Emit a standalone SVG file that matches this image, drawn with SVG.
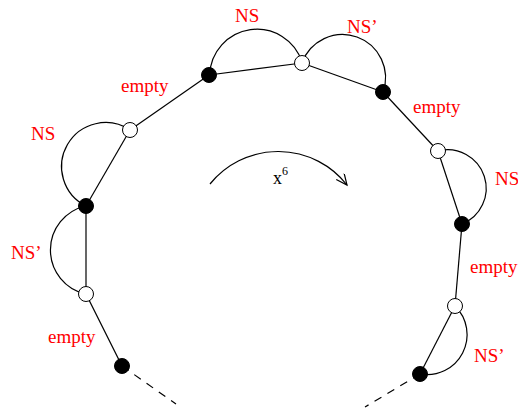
<svg xmlns="http://www.w3.org/2000/svg" width="518" height="411" viewBox="0 0 518 411">
<style>
.e{stroke:#000;stroke-width:1.2;fill:none}
.d{stroke:#000;stroke-width:1.2;fill:none;stroke-dasharray:8,7}
.b{fill:#000;stroke:#000;stroke-width:1}
.w{fill:#fff;stroke:#000;stroke-width:1}
.l{font-family:"Liberation Serif",serif;font-size:19px;fill:#ff0000}
.t{font-family:"Liberation Serif",serif;font-size:18px;fill:#000}
</style>
<defs>
<marker id="ah" markerWidth="14" markerHeight="12" refX="12" refY="5" orient="auto" markerUnits="userSpaceOnUse">
<path d="M1,0 L12,5 L1,10" fill="none" stroke="#000" stroke-width="1.2"/>
</marker>
</defs>
<g id="connectors">
<line class="e" x1="122" y1="366" x2="86" y2="294"/>
<line class="e" x1="86" y1="294" x2="86" y2="206"/>
<line class="e" x1="86" y1="206" x2="130" y2="130"/>
<line class="e" x1="130" y1="130" x2="209" y2="75"/>
<line class="e" x1="209" y1="75" x2="302" y2="63"/>
<line class="e" x1="302" y1="63" x2="383" y2="92"/>
<line class="e" x1="383" y1="92" x2="438" y2="151"/>
<line class="e" x1="438" y1="151" x2="462" y2="224"/>
<line class="e" x1="462" y1="224" x2="455" y2="306"/>
<line class="e" x1="455" y1="306" x2="420" y2="374"/>
<line class="d" x1="122" y1="366" x2="176" y2="404"/>
<line class="d" x1="420" y1="374" x2="365" y2="407"/>
<path class="e" d="M209.7,75 A47.3,47.3 0 0 1 302,62"/>
<path class="e" d="M302,63 A43,43 0 0 1 383,92"/>
<path class="e" d="M438,151 A38.5,38.5 0 0 1 462,224"/>
<path class="e" d="M455,306 A40,40 0 0 1 420,374"/>
<path class="e" d="M130,130 A44,44 0 1 0 86,206"/>
<path class="e" d="M86,206 A45,45 0 0 0 86,294"/>
<path class="e" d="M210,184 A87.6,87.6 0 0 1 347,185" marker-end="url(#ah)"/>
</g>
<g id="n1"><circle class="b" cx="209" cy="75" r="7.5"/></g>
<g id="n2"><circle class="w" cx="302" cy="63" r="7.5"/></g>
<g id="n3"><circle class="b" cx="383" cy="92" r="7.5"/></g>
<g id="n4"><circle class="w" cx="438" cy="151" r="7.5"/></g>
<g id="n5"><circle class="b" cx="462" cy="224" r="7.5"/></g>
<g id="n6"><circle class="w" cx="455" cy="306" r="7.5"/></g>
<g id="n7"><circle class="b" cx="420" cy="374" r="7.5"/></g>
<g id="n8"><circle class="w" cx="130" cy="130" r="7.5"/></g>
<g id="n9"><circle class="b" cx="86" cy="206" r="7.5"/></g>
<g id="n10"><circle class="w" cx="86" cy="294" r="7.5"/></g>
<g id="n11"><circle class="b" cx="122" cy="366" r="7.5"/></g>
<g id="labels">
<text class="l" x="235" y="22">NS</text>
<text class="l" x="347" y="33">NS’</text>
<text class="l" x="121" y="92">empty</text>
<text class="l" x="31" y="140">NS</text>
<text class="l" x="11" y="259">NS’</text>
<text class="l" x="48" y="343">empty</text>
<text class="l" x="413" y="113">empty</text>
<text class="l" x="495" y="185">NS</text>
<text class="l" x="470" y="273">empty</text>
<text class="l" x="474" y="362">NS’</text>
<text class="t" x="273" y="184">x<tspan font-size="12" dy="-9">6</tspan></text>
</g>
</svg>
